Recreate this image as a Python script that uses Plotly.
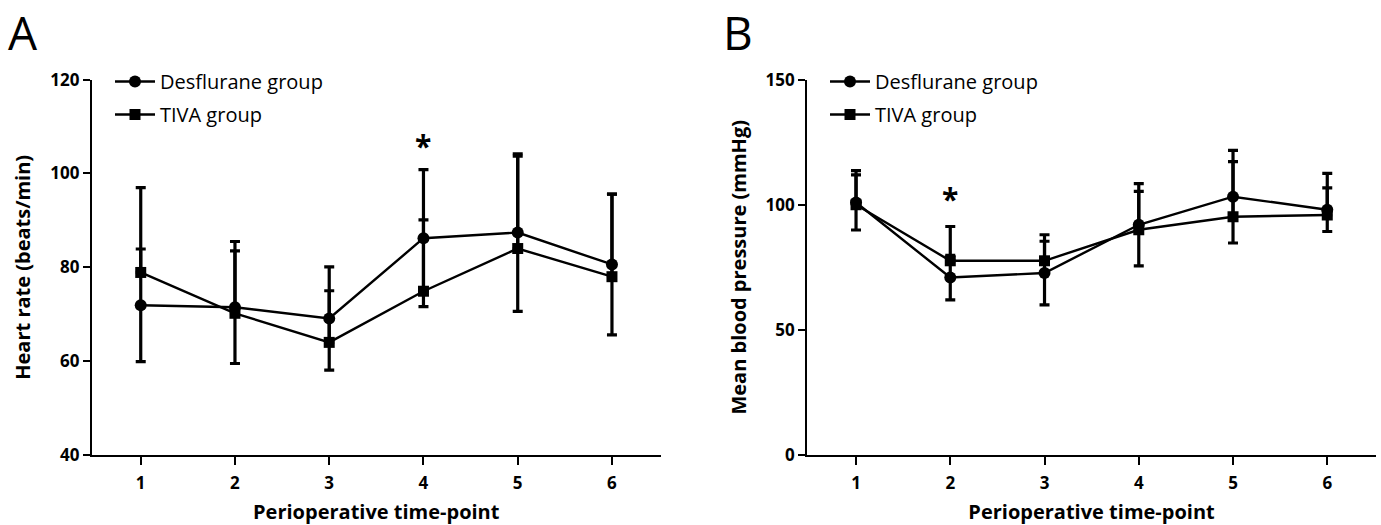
import plotly.graph_objects as go

timepoints = [1, 2, 3, 4, 5, 6]

# Panel A: heart rate (beats/min)
hr_des_mean = [71.9, 71.5, 69.1, 86.2, 87.4, 80.6]
hr_des_sd = [12.0, 12.0, 11.0, 14.6, 16.8, 15.0]
hr_tiva_mean = [78.9, 70.2, 64.0, 74.9, 84.0, 78.0]
hr_tiva_sd = [18.1, 15.3, 11.0, 15.2, 19.7, 17.6]

# Panel B: mean blood pressure (mmHg)
bp_des_mean = [100.9, 70.9, 72.7, 92.0, 103.2, 98.0]
bp_des_sd = [11.0, 8.9, 12.7, 16.4, 18.5, 8.7]
bp_tiva_mean = [100.0, 77.6, 77.6, 90.0, 95.2, 95.9]
bp_tiva_sd = [13.6, 13.7, 10.4, 15.3, 22.0, 16.6]

series_names = ["Desflurane group", "TIVA group"]
hr_ticks = [40, 60, 80, 100, 120]
bp_ticks = [0, 50, 100, 150]
sig_a = (4, 106.0)
sig_b = (2, 102.5)

FONT = "Open Sans"
W, H = 1381, 525


def xp(px):
    return px / W


def yp(py):
    return 1 - py / H


fig = go.Figure()


def add_pair(xa, ya, des_m, des_sd, tiva_m, tiva_sd, legend, grp):
    fig.add_trace(go.Scatter(
        x=timepoints, y=des_m, name=series_names[0], mode="lines+markers",
        xaxis=xa, yaxis=ya, legend=legend, legendgroup=grp + "d",
        line=dict(color="black", width=2.4),
        marker=dict(symbol="circle", size=12, color="black"),
        error_y=dict(type="data", array=des_sd, color="black",
                     thickness=3.2, width=5),
        cliponaxis=False,
    ))
    fig.add_trace(go.Scatter(
        x=timepoints, y=tiva_m, name=series_names[1], mode="lines+markers",
        xaxis=xa, yaxis=ya, legend=legend, legendgroup=grp + "t",
        line=dict(color="black", width=2.4),
        marker=dict(symbol="square", size=11, color="black"),
        error_y=dict(type="data", symmetric=False, array=tiva_sd,
                     arrayminus=[0] * len(tiva_sd), color="black",
                     thickness=3.2, width=5),
        cliponaxis=False,
    ))


add_pair("x", "y", hr_des_mean, hr_des_sd, hr_tiva_mean, hr_tiva_sd, "legend", "a")
add_pair("x2", "y2", bp_des_mean, bp_des_sd, bp_tiva_mean, bp_tiva_sd, "legend2", "b")

tickfont = dict(family=FONT, size=17, color="black", weight="bold")
titlefont = dict(family=FONT, size=20, color="black", weight="bold")
XRANGE = [0.483, 6.515]
YDOM = [yp(455), yp(79.6)]


def xaxis(domain, anchor):
    return dict(domain=domain, range=XRANGE, tickvals=timepoints, anchor=anchor,
                showline=True, linecolor="black", linewidth=2.4,
                ticks="outside", ticklen=8, tickwidth=2.4, tickcolor="black",
                tickfont=tickfont, ticklabelstandoff=3,
                showgrid=False, zeroline=False,
                title=dict(text="Perioperative time-point", font=titlefont, standoff=14))


def yaxis(anchor, rng, tv, title):
    return dict(domain=YDOM, range=rng, tickvals=tv,
                anchor=anchor, showline=True, linecolor="black", linewidth=2.4,
                ticks="outside", ticklen=7, tickwidth=2.4, tickcolor="black",
                tickfont=tickfont, showgrid=False, zeroline=False,
                title=dict(text=title, font=titlefont, standoff=14))


legend_style = dict(font=dict(family=FONT, size=20, color="black"),
                    bgcolor="rgba(0,0,0,0)", yanchor="top", xanchor="left",
                    itemwidth=40, traceorder="grouped", tracegroupgap=4,
                    borderwidth=0)

fig.update_layout(
    width=W, height=H,
    paper_bgcolor="white", plot_bgcolor="white",
    margin=dict(l=0, r=0, t=0, b=0, autoexpand=False),
    xaxis=xaxis([xp(92), xp(660.5)], "y"),
    yaxis=yaxis("x", [40, 120], hr_ticks, "Heart rate (beats/min)"),
    xaxis2=xaxis([xp(807.3), xp(1375.8)], "y2"),
    yaxis2=yaxis("x2", [0, 150], bp_ticks, "Mean blood pressure (mmHg)"),
    legend=dict(x=xp(110), y=yp(62), **legend_style),
    legend2=dict(x=xp(825), y=yp(62), **legend_style),
    annotations=[
        dict(text="A", x=xp(7), y=1, xref="paper", yref="paper",
             xanchor="left", yanchor="top", showarrow=False, borderpad=0,
             font=dict(family=FONT, size=46, color="black")),
        dict(text="B", x=xp(722), y=1, xref="paper", yref="paper",
             xanchor="left", yanchor="top", showarrow=False, borderpad=0,
             font=dict(family=FONT, size=46, color="black")),
        dict(text="*", x=sig_a[0], y=sig_a[1], xref="x", yref="y",
             showarrow=False, font=dict(family=FONT, size=30, color="black", weight="bold")),
        dict(text="*", x=sig_b[0], y=sig_b[1], xref="x2", yref="y2",
             showarrow=False, font=dict(family=FONT, size=30, color="black", weight="bold")),
    ],
    showlegend=True,
)

# remove the browser's default 8px page margin so the figure fills the window
fig.write_html("out.html", config={"displayModeBar": False},
               post_script="document.body.style.margin='0';")
